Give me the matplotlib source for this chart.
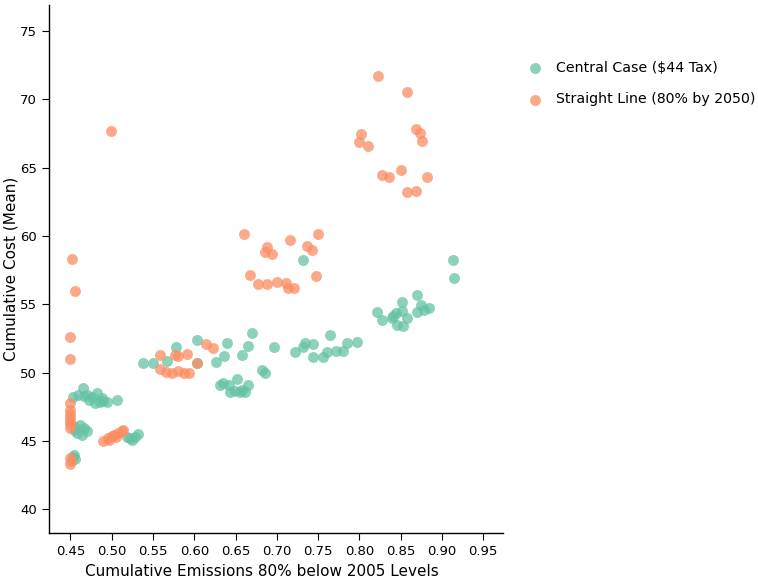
import matplotlib
matplotlib.use("Agg")
import matplotlib.pyplot as plt

# Central Case ($44 Tax): cumulative emissions vs. cumulative cost
central_x = [0.453, 0.459, 0.465, 0.467, 0.470, 0.473, 0.476, 0.480, 0.482, 0.486, 0.488, 0.494, 0.506, 0.490,
             0.454, 0.458, 0.461, 0.464, 0.467, 0.470, 0.456,
             0.454, 0.455, 0.453,
             0.518, 0.524, 0.528, 0.532, 0.522,
             0.538, 0.550, 0.567, 0.578, 0.603, 0.603, 0.626, 0.636, 0.640, 0.658, 0.665, 0.670, 0.696, 0.682, 0.686,
             0.631, 0.635, 0.642, 0.652, 0.665, 0.643, 0.649, 0.658, 0.661, 0.655,
             0.722, 0.732, 0.734, 0.744, 0.744, 0.756, 0.761, 0.764, 0.772, 0.780, 0.785, 0.797,
             0.821, 0.828, 0.840, 0.844, 0.852, 0.852, 0.858, 0.870, 0.870, 0.875, 0.878, 0.884, 0.846, 0.853, 0.841,
             0.913, 0.915, 0.732]
central_y = [48.20, 48.37, 48.88, 48.30, 48.37, 48.00, 48.22, 47.78, 48.51, 47.85, 48.15, 47.85, 48.00, 47.93,
             45.80, 45.59, 46.17, 45.44, 45.95, 45.73, 46.02,
             43.97, 43.68, 43.83,
             45.30, 45.07, 45.30, 45.51, 45.20,
             50.71, 50.71, 50.86, 51.88, 52.40, 50.71, 50.79, 51.23, 52.18, 51.30, 51.96, 52.91, 51.88, 50.20, 49.98,
             49.10, 49.25, 49.10, 49.54, 49.10, 48.59, 48.66, 48.74, 48.59, 48.59,
             51.52, 51.88, 52.18, 52.11, 51.16, 51.16, 51.52, 52.76, 51.60, 51.60, 52.18, 52.25,
             54.44, 53.86, 54.00, 54.37, 55.17, 54.51, 54.00, 55.70, 54.44, 54.95, 54.59, 54.73, 53.50, 53.43, 54.15,
             58.24, 56.92, 58.24]

# Straight Line (80% by 2050)
straight_x = [0.452, 0.455, 0.450, 0.450,
              0.450, 0.450, 0.450, 0.450, 0.450, 0.450, 0.450,
              0.450, 0.451, 0.450,
              0.499,
              0.490, 0.495, 0.500, 0.503, 0.508, 0.512, 0.514, 0.497, 0.505,
              0.558, 0.577, 0.580, 0.591, 0.603, 0.614, 0.623, 0.559, 0.566, 0.573, 0.580, 0.588, 0.594,
              0.660, 0.688, 0.686, 0.694, 0.716, 0.737, 0.743, 0.750, 0.668, 0.677, 0.688, 0.700, 0.711, 0.714,
              0.721, 0.748,
              0.822, 0.858, 0.869, 0.873, 0.876, 0.802, 0.800, 0.810, 0.827, 0.836, 0.850, 0.858, 0.869, 0.882]
straight_y = [58.30, 56.00, 52.60, 51.00,
              47.78, 47.27, 46.98, 46.68, 46.46, 46.24, 45.95,
              43.75, 43.53, 43.31,
              67.70,
              45.00, 45.22, 45.37, 45.45, 45.59, 45.74, 45.80, 45.10, 45.30,
              51.30, 51.30, 51.20, 51.40, 50.71, 52.10, 51.80, 50.25, 50.05, 49.98, 50.10, 50.00, 50.00,
              60.15, 59.20, 58.84, 58.69, 59.70, 59.27, 58.98, 60.15, 57.15, 56.49, 56.49, 56.64, 56.56, 56.20,
              56.20, 57.08,
              71.71, 70.54, 67.83, 67.54, 66.96, 67.47, 66.89, 66.60, 64.47, 64.33, 64.84, 63.23, 63.30, 64.33]

series_labels = ["Central Case ($44 Tax)", "Straight Line (80% by 2050)"]
x_ticks = [0.45, 0.50, 0.55, 0.60, 0.65, 0.70, 0.75, 0.80, 0.85, 0.90, 0.95]
y_ticks = [40, 45, 50, 55, 60, 65, 70, 75]

green = "#66c2a5"
orange = "#fc8d62"

plt.rcParams["font.family"] = ["DejaVu Sans"]

fig = plt.figure(figsize=(7.58, 5.79), dpi=100)
ax = fig.add_axes([0.0646, 0.0794, 0.599, 0.912])

ax.scatter(central_x, central_y, s=62, color=green, alpha=0.75, linewidths=0, label=series_labels[0], zorder=2)
ax.scatter(straight_x, straight_y, s=62, color=orange, alpha=0.75, linewidths=0, label=series_labels[1], zorder=3)

ax.set_xlim(0.424, 0.974)
ax.set_ylim(38.27, 76.9)
ax.set_xticks(x_ticks)
ax.set_xticklabels([f"{t:.2f}" for t in x_ticks])
ax.set_yticks(y_ticks)

for side in ("top", "right"):
    ax.spines[side].set_visible(False)
for side in ("left", "bottom"):
    ax.spines[side].set_linewidth(1.0)
    ax.spines[side].set_color("black")

ax.tick_params(axis="both", direction="out", length=5, width=0.8, labelsize=9.5, colors="black")
ax.set_xlabel("Cumulative Emissions 80% below 2005 Levels", fontsize=11)
ax.set_ylabel("Cumulative Cost (Mean)", fontsize=11)
ax.xaxis.set_label_coords(0.47, -0.058)
ax.yaxis.set_label_coords(-0.068, 0.5)

fig.legend(loc="upper left", bbox_to_anchor=(0.68, 0.905), frameon=False, fontsize=10.2,
           handletextpad=0.45, labelspacing=1.25, markerscale=1.0, borderaxespad=0)

fig.savefig("out.png", dpi=100)
